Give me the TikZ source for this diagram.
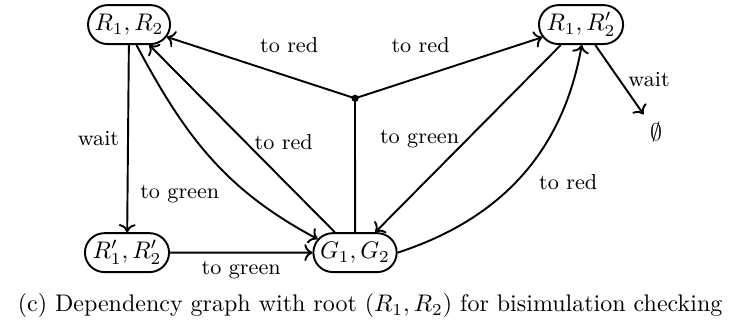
\documentclass[tikz,border=0pt]{standalone}
\usepackage{amsmath}
\usepackage{amssymb}
\usetikzlibrary{shapes.misc, arrows.meta, positioning, calc}
\tikzstyle{state} = [rounded rectangle, draw, thick, inner sep=1.5pt, minimum height=0.57cm]
\tikzstyle{arrow} = [thick, ->]
\tikzstyle{lbl} = [font=\small]

\begin{document}
\begin{tikzpicture}
    \useasboundingbox (0,0) rectangle (10.78,4.75);
    \node[state] (r1r2) at (1.89,4.39) {$R_1, R_2$};
    \node[state] (r1r2p) at (8.51,4.39) {$R_1, R'_2$};
    \node[state] (r1pr2p) at (1.86,1.05) {$R'_1, R'_2$};
    \node[state] (g1g2) at (5.20,1.05) {$G_1, G_2$};
    \node (empty) at (9.61,2.81) {$\emptyset$};
    \coordinate (hub) at (5.20,3.31);
    \node (caption) at (5.42,0.27) {(c) Dependency graph with root $(R_1, R_2)$ for bisimulation checking};

    \draw[arrow] (r1r2) -- node[lbl, left] {wait} (r1pr2p);
    \draw[arrow] (r1r2.-70) to[out=-62, in=152] node[lbl, below left, pos=0.6] {to green} (g1g2.160);
    \draw[arrow] (g1g2) -- node[lbl, right, pos=0.48] {to red} (r1r2);
    \draw[arrow] (r1pr2p) -- node[lbl, below] {to green} (g1g2);

    % hyperedge with two targets
    \draw[thick] (g1g2) -- (hub);
    \fill (hub) circle (1.5pt);
    \draw[arrow] (hub) -- node[lbl, above=0.22cm, pos=0.35] {to red} (r1r2);
    \draw[arrow] (hub) -- node[lbl, above=0.22cm, pos=0.35] {to red} (r1r2p);

    \draw[arrow] (r1r2p) -- node[lbl, left, pos=0.5] {to green} (g1g2);
    \draw[arrow] (g1g2.east) to[out=18, in=-100] node[lbl, below right, pos=0.55] {to red} (r1r2p.-88);
    \draw[arrow] (r1r2p) -- node[lbl, right] {wait} (empty);
\end{tikzpicture}
\end{document}
